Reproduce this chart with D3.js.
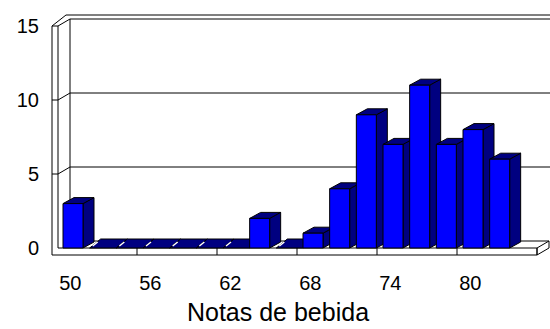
<!DOCTYPE html>
<html>
<head>
<meta charset="utf-8">
<script src="https://cdn.jsdelivr.net/npm/d3@7"></script>
<style>
  body { margin: 0; background: #fff; }
  svg { display: block; }
  text { font-family: "Liberation Sans", Arial, sans-serif; fill: #000; }
</style>
</head>
<body>
<svg width="550" height="329"></svg>
<script>
// data
const categories = [50, 52, 54, 56, 58, 60, 62, 64, 66, 68, 70, 72, 74, 76, 78, 80, 82, 84];
const counts = [3, 0, 0, 0, 0, 0, 0, 2, 0, 1, 4, 9, 7, 11, 7, 8, 6, null];
const yTicks = [0, 5, 10, 15];
const xTickLabels = [50, 56, 62, 68, 74, 80];
const xTitle = 'Notas de bebida';

const svg = d3.select('svg');
const depth = { dx: 12, dy: -7 };     // floor / wall depth offset
const barDepth = { dx: 11, dy: -6 };  // bar depth offset
const wallOuter = 52, wallInner = 58, floorBottom = 255;

const x = d3.scaleBand().domain(categories).range([57, 537]);
const y = d3.scaleLinear().domain([0, 15]).range([248, 26]);

const poly = pts => 'M' + pts.map(p => p.join(',')).join('L') + 'Z';
const line = pts => 'M' + pts.map(p => p.join(',')).join('L');

const y0 = y(0), yTop = y(15);
const xEnd = x.range()[1];
const backL = wallInner + depth.dx, backR = xEnd + depth.dx;

// back wall
svg.append('path')
    .attr('d', poly([[backL, yTop + depth.dy], [backR, yTop + depth.dy], [backR, y0 + depth.dy], [backL, y0 + depth.dy]]))
    .attr('fill', '#fff');

// gridlines on back wall + connectors on left wall
yTicks.filter(v => v > 0 && v < 15).forEach(v => {
    svg.append('path')
        .attr('d', line([[wallOuter, y(v)], [wallInner, y(v)], [backL, y(v) + depth.dy], [backR + 2, y(v) + depth.dy]]))
        .attr('fill', 'none').attr('stroke', '#000');
});

// top edge of back wall (double line)
svg.append('path')
    .attr('d', line([[wallInner, yTop], [backL, yTop + depth.dy], [backR + 2, yTop + depth.dy]]))
    .attr('fill', 'none').attr('stroke', '#000');
svg.append('path')
    .attr('d', line([[wallOuter, yTop], [backL - 4, yTop + depth.dy - 4], [backR + 2, yTop + depth.dy - 4]]))
    .attr('fill', 'none').attr('stroke', '#000');

// back wall left edge
svg.append('path')
    .attr('d', line([[backL, yTop + depth.dy], [backL, y0 + depth.dy]]))
    .attr('fill', 'none').attr('stroke', '#000');

// left wall front strip
svg.append('path')
    .attr('d', line([[wallOuter, yTop], [wallInner, yTop]]))
    .attr('stroke', '#000');
svg.append('path')
    .attr('d', line([[wallOuter, yTop], [wallOuter, floorBottom], [xEnd, floorBottom]]))
    .attr('fill', 'none').attr('stroke', '#000');
svg.append('path')
    .attr('d', line([[wallInner, yTop], [wallInner, y0], [xEnd, y0]]))
    .attr('fill', 'none').attr('stroke', '#000');

// floor right end
svg.append('path')
    .attr('d', poly([[xEnd, y0], [xEnd + depth.dx, y0 + depth.dy], [xEnd + depth.dx, floorBottom + depth.dy], [xEnd, floorBottom]]))
    .attr('fill', '#fff').attr('stroke', '#000');
svg.append('path')
    .attr('d', line([[backL, y0 + depth.dy], [xEnd + depth.dx, y0 + depth.dy]]))
    .attr('fill', 'none').attr('stroke', '#000');

// ticks on floor front strip
xTickLabels.slice(1).concat([null]).forEach(c => {
    const xt = c === null ? xEnd : x(c);
    svg.append('path')
        .attr('d', line([[xt, y0], [xt, floorBottom]]))
        .attr('stroke', '#000');
});

// bars
const step = x.step(), bw = step * 0.75, off = step * 0.225;
const bars = svg.append('g').attr('stroke', '#000').attr('stroke-linejoin', 'round');
categories.forEach((c, i) => {
    const v = counts[i];
    if (v === null) return;
    const x0 = x(c) + off;
    const { dx, dy } = barDepth;
    if (v === 0) {
        // flat slab for empty classes
        const zdy = dy - 3;
        bars.append('path')
            .attr('d', poly([[x0, y0], [x0 + step, y0], [x0 + step + dx, y0 + zdy], [x0 + dx, y0 + zdy]]))
            .attr('fill', '#000080');
        bars.append('path')
            .attr('d', line([[x0 + 3, y0 - 2], [x0 + 8, y0 - 6]]))
            .attr('stroke', '#fff').attr('stroke-width', 1.5);
        return;
    }
    const yv = y(v);
    bars.append('path')
        .attr('d', poly([[x0 + bw, yv], [x0 + bw + dx, yv + dy], [x0 + bw + dx, y0 + dy], [x0 + bw, y0]]))
        .attr('fill', '#000080');
    bars.append('path')
        .attr('d', poly([[x0, yv], [x0 + bw, yv], [x0 + bw + dx, yv + dy], [x0 + dx, yv + dy]]))
        .attr('fill', '#000080');
    bars.append('rect')
        .attr('x', x0).attr('y', yv)
        .attr('width', bw).attr('height', y0 - yv)
        .attr('fill', '#0000ff');
});

// y labels
svg.append('g').selectAll('text')
    .data(yTicks)
    .enter().append('text')
    .attr('x', 39)
    .attr('y', d => y(d))
    .attr('dy', '0.35em')
    .attr('text-anchor', 'end')
    .style('font-size', '20px')
    .text(d => d);

// x labels
svg.append('g').selectAll('text')
    .data(xTickLabels)
    .enter().append('text')
    .attr('x', d => x(d) + step / 2)
    .attr('y', 283)
    .attr('dy', '0.35em')
    .attr('text-anchor', 'middle')
    .style('font-size', '20px')
    .text(d => d);

// axis title
svg.append('text')
    .attr('x', 278)
    .attr('y', 321)
    .attr('text-anchor', 'middle')
    .style('font-size', '25px')
    .text(xTitle);
</script>
</body>
</html>
